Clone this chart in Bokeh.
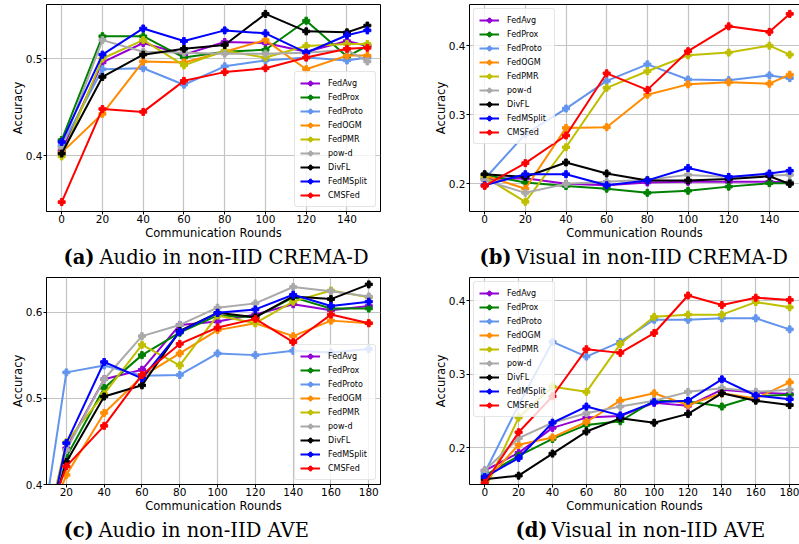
from bokeh.plotting import figure
from bokeh.layouts import column, row
from bokeh.models import FixedTicker, LinearAxis, Label, Range1d
from bokeh.embed import file_html
from bokeh.resources import INLINE

methods = ["FedAvg", "FedProx", "FedProto", "FedOGM", "FedPMR", "pow-d", "DivFL", "FedMSplit", "CMSFed"]
colors = ["#9400D3", "#008000", "#6495ED", "#FF8C00", "#BFBF00", "#A9A9A9", "#000000", "#0000FF", "#FF0000"]

rounds_crema = [0, 20, 40, 60, 80, 100, 120, 140, 150]
rounds_ave = [0, 20, 40, 60, 80, 100, 120, 140, 160, 180]

# (a) Audio in non-IID CREMA-D
audio_crema = {
    "FedAvg":    [0.405, 0.496, 0.516, 0.504, 0.517, 0.516, 0.507, 0.518, 0.513],
    "FedProx":   [0.416, 0.523, 0.523, 0.501, 0.507, 0.509, 0.539, 0.502, 0.513],
    "FedProto":  [0.410, 0.489, 0.490, 0.473, 0.492, 0.498, 0.501, 0.498, 0.501],
    "FedOGM":    [0.403, 0.443, 0.497, 0.496, 0.507, 0.519, 0.489, 0.503, 0.503],
    "FedPMR":    [0.399, 0.500, 0.519, 0.493, 0.508, 0.501, 0.513, 0.515, 0.515],
    "pow-d":     [0.408, 0.519, 0.507, 0.506, 0.505, 0.505, 0.506, 0.509, 0.497],
    "DivFL":     [0.402, 0.481, 0.504, 0.510, 0.514, 0.546, 0.528, 0.527, 0.534],
    "FedMSplit": [0.414, 0.504, 0.531, 0.518, 0.529, 0.526, 0.506, 0.524, 0.529],
    "CMSFed":    [0.352, 0.448, 0.445, 0.477, 0.486, 0.490, 0.501, 0.510, 0.511],
}

# (b) Visual in non-IID CREMA-D
visual_crema = {
    "FedAvg":    [0.207, 0.208, 0.200, 0.198, 0.202, 0.203, 0.203, 0.203, 0.202],
    "FedProx":   [0.213, 0.202, 0.197, 0.193, 0.187, 0.190, 0.196, 0.201, 0.201],
    "FedProto":  [0.207, 0.272, 0.309, 0.349, 0.373, 0.351, 0.350, 0.357, 0.353],
    "FedOGM":    [0.212, 0.193, 0.281, 0.282, 0.329, 0.344, 0.347, 0.345, 0.358],
    "FedPMR":    [0.210, 0.174, 0.253, 0.339, 0.363, 0.386, 0.390, 0.400, 0.387],
    "pow-d":     [0.205, 0.187, 0.200, 0.203, 0.206, 0.213, 0.210, 0.212, 0.213],
    "DivFL":     [0.214, 0.210, 0.231, 0.215, 0.205, 0.205, 0.207, 0.211, 0.200],
    "FedMSplit": [0.198, 0.214, 0.214, 0.198, 0.205, 0.223, 0.210, 0.215, 0.219],
    "CMSFed":    [0.197, 0.230, 0.270, 0.360, 0.336, 0.392, 0.428, 0.420, 0.446],
}

# (c) Audio in non-IID AVE
audio_ave = {
    "FedAvg":    [0.25, 0.442, 0.522, 0.533, 0.585, 0.589, 0.597, 0.609, 0.602, 0.607],
    "FedProx":   [0.25, 0.432, 0.512, 0.550, 0.576, 0.596, 0.594, 0.617, 0.604, 0.604],
    "FedProto":  [0.24, 0.530, 0.538, 0.526, 0.527, 0.552, 0.550, 0.555, 0.553, 0.557],
    "FedOGM":    [0.30, 0.411, 0.483, 0.525, 0.552, 0.579, 0.587, 0.572, 0.590, 0.587],
    "FedPMR":    [0.26, 0.449, 0.505, 0.562, 0.538, 0.596, 0.587, 0.612, 0.625, 0.617],
    "pow-d":     [0.26, 0.440, 0.522, 0.572, 0.585, 0.605, 0.610, 0.629, 0.624, 0.618],
    "DivFL":     [0.28, 0.426, 0.502, 0.515, 0.578, 0.599, 0.594, 0.618, 0.615, 0.632],
    "FedMSplit": [0.24, 0.448, 0.542, 0.523, 0.577, 0.599, 0.603, 0.620, 0.607, 0.612],
    "CMSFed":    [0.30, 0.421, 0.468, 0.527, 0.563, 0.582, 0.592, 0.565, 0.597, 0.587],
}

# (d) Visual in non-IID AVE
visual_ave = {
    "FedAvg":    [0.169, 0.193, 0.227, 0.241, 0.243, 0.261, 0.257, 0.279, 0.275, 0.273],
    "FedProx":   [0.162, 0.189, 0.212, 0.231, 0.236, 0.264, 0.263, 0.256, 0.270, 0.272],
    "FedProto":  [0.166, 0.258, 0.344, 0.324, 0.344, 0.374, 0.374, 0.376, 0.376, 0.361],
    "FedOGM":    [0.153, 0.204, 0.214, 0.235, 0.264, 0.274, 0.258, 0.274, 0.267, 0.289],
    "FedPMR":    [0.143, 0.241, 0.283, 0.276, 0.341, 0.378, 0.381, 0.381, 0.398, 0.391],
    "pow-d":     [0.169, 0.213, 0.234, 0.247, 0.256, 0.264, 0.276, 0.281, 0.276, 0.279],
    "DivFL":     [0.157, 0.162, 0.192, 0.222, 0.240, 0.234, 0.246, 0.274, 0.264, 0.258],
    "FedMSplit": [0.160, 0.186, 0.234, 0.256, 0.244, 0.262, 0.264, 0.293, 0.271, 0.266],
    "CMSFed":    [0.152, 0.221, 0.270, 0.334, 0.329, 0.356, 0.407, 0.394, 0.404, 0.401],
}

xticks_crema = [0, 20, 40, 60, 80, 100, 120, 140]
xticks_ave_audio = [20, 40, 60, 80, 100, 120, 140, 160, 180]
xticks_ave_visual = [0, 20, 40, 60, 80, 100, 120, 140, 160, 180]

captions = [
    ("(a)", "Audio in non-IID CREMA-D"),
    ("(b)", "Visual in non-IID CREMA-D"),
    ("(c)", "Audio in non-IID AVE"),
    ("(d)", "Visual in non-IID AVE"),
]

TICK_FONT = "10.5px"
LABEL_FONT = "11.5px"
CAP_FONT = "DejaVu Serif"
CAP_SIZE = "19.5px"


def make_panel(x, series, xr, yr, xticks, yticks, W, H, borders, legend_loc, closed):
    left, right, top, bottom = borders
    p = figure(width=W, height=H, output_backend="svg", toolbar_location=None,
               x_range=Range1d(*xr), y_range=Range1d(*yr),
               min_border_left=left, min_border_right=right,
               min_border_top=top, min_border_bottom=bottom)
    p.background_fill_color = "white"
    p.border_fill_color = "white"

    xa = p.below[0]
    ya = p.left[0]
    xa.ticker = FixedTicker(ticks=xticks)
    ya.ticker = FixedTicker(ticks=yticks)
    for ax in (xa, ya):
        ax.axis_line_color = "black"
        ax.major_tick_line_color = "black"
        ax.minor_tick_line_color = None
        ax.major_tick_out = 3
        ax.major_tick_in = 0
        ax.major_label_text_font = "DejaVu Sans"
        ax.major_label_text_font_size = TICK_FONT
        ax.major_label_text_color = "black"
        ax.axis_label_text_font = "DejaVu Sans"
        ax.axis_label_text_font_size = LABEL_FONT
        ax.axis_label_text_font_style = "normal"
        ax.axis_label_text_color = "black"
    xa.major_label_standoff = 0
    xa.axis_label_standoff = 0
    ya.major_label_standoff = 1
    ya.axis_label_standoff = -2
    xa.axis_label = "Communication Rounds"
    ya.axis_label = "Accuracy"

    if closed:
        p.outline_line_color = "black"
        p.outline_line_width = 1
        p.outline_line_alpha = 1
    else:
        p.outline_line_color = None
        top_axis = LinearAxis(ticker=FixedTicker(ticks=[]), axis_line_color="black",
                              major_tick_line_color=None, minor_tick_line_color=None,
                              major_label_text_font_size="0px", major_label_standoff=0,
                              major_tick_out=0, major_tick_in=0, axis_label=None)
        p.add_layout(top_axis, "above")

    p.xgrid.grid_line_color = "#c4c4c4"
    p.ygrid.grid_line_color = "#c4c4c4"
    p.xgrid.grid_line_width = 1.2
    p.ygrid.grid_line_width = 1.2

    for m, c in zip(methods, colors):
        p.line(x, series[m], line_color=c, line_width=2, legend_label=m)
        p.scatter(x, series[m], marker="plus", size=7, fill_color=c, line_color=c,
                  legend_label=m)

    lg = p.legend[0]
    lg.location = legend_loc
    lg.margin = 4
    lg.padding = 5
    lg.spacing = 2
    lg.glyph_height = 12
    lg.label_height = 12
    lg.glyph_width = 20
    lg.label_standoff = 8
    lg.label_width = 42
    lg.label_text_font = "DejaVu Sans"
    lg.label_text_font_size = "8px"
    lg.label_text_color = "black"
    lg.border_line_color = "#cccccc"
    lg.border_line_width = 1
    lg.background_fill_alpha = 0.8
    lg.border_radius = 3
    return p


def make_caption(caption, W, H, tag_x, text_x, mid_y):
    c = figure(width=W, height=H, output_backend="svg", toolbar_location=None,
               x_range=Range1d(0, W), y_range=Range1d(0, H),
               x_axis_location=None, y_axis_location=None,
               min_border=0)
    c.outline_line_color = None
    c.grid.visible = False
    c.background_fill_color = "white"
    c.border_fill_color = "white"
    tag, text = caption
    c.add_layout(Label(x=tag_x, y=mid_y, text=tag, text_font=CAP_FONT,
                       text_font_size=CAP_SIZE, text_font_style="bold",
                       text_color="black", text_baseline="middle", text_align="left"))
    c.add_layout(Label(x=text_x, y=mid_y, text=text, text_font=CAP_FONT,
                       text_font_size=CAP_SIZE, text_font_style="normal",
                       text_color="black", text_baseline="middle", text_align="left"))
    return c


pa = make_panel(rounds_crema, audio_crema, (-7.45, 156.45), (0.3423, 0.5557),
                xticks_crema, [0.4, 0.5], 400, 245, (46, 20, 4, 34), "bottom_right", True)
pb = make_panel(rounds_crema, visual_crema, (-7.45, 154.8), (0.160, 0.4596),
                xticks_crema, [0.2, 0.3, 0.4], 399, 245, (69, 0, 4, 34), "top_left", False)
pc = make_panel(rounds_ave, audio_ave, (9.5, 186.2), (0.40, 0.64),
                xticks_ave_audio, [0.4, 0.5, 0.6], 400, 245, (46, 20, 5, 33), "bottom_right", True)
pd = make_panel(rounds_ave, visual_ave, (-9.0, 185.8), (0.150, 0.4315),
                xticks_ave_visual, [0.2, 0.3, 0.4], 399, 245, (69, 0, 3, 33), "top_left", False)

ca = make_caption(captions[0], 400, 27, 63, 99, 15)
cb = make_caption(captions[1], 399, 27, 79, 115, 15)
cc = make_caption(captions[2], 400, 27, 63, 98, 14.5)
cd = make_caption(captions[3], 399, 27, 115, 151, 14.5)

layout = column(row(pa, pb), row(ca, cb), row(pc, pd), row(cc, cd))
open("out.html", "w").write(file_html(layout, INLINE))
